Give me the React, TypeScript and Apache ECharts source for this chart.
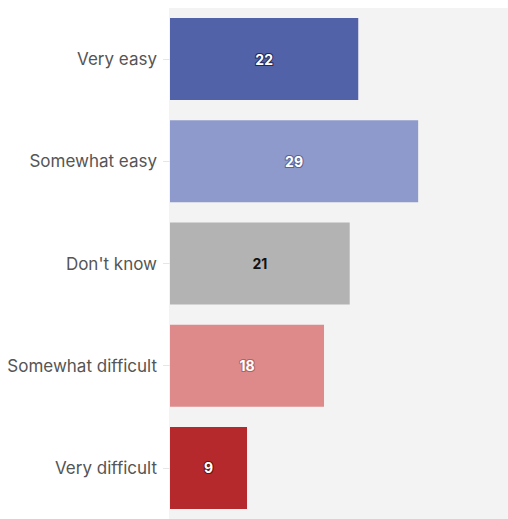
import React, { useEffect, useRef } from "react";
import * as echarts from "echarts";

const categories = ["Very easy", "Somewhat easy", "Don't know", "Somewhat difficult", "Very difficult"];
const values = [22, 29, 21, 18, 9];
const colors = ["#5262a8", "#8e9acb", "#b3b3b3", "#de8a8b", "#b5292d"];
const labelColors = ["#ffffff", "#ffffff", "#111111", "#ffffff", "#ffffff"];
const labelBorders = ["#1f2a5e", "#5a6396", "#d0d0d0", "#b06264", "#6a1010"];

export default function App() {
  const ref = useRef<HTMLDivElement>(null);
  useEffect(() => {
    if (!ref.current) return;
    const chart = echarts.init(ref.current, null, { renderer: "svg" });
    chart.setOption({
      animation: false,
      graphic: [
        {
          type: "rect",
          z: -10,
          silent: true,
          shape: { x: 169, y: 8, width: 339, height: 511 },
          style: { fill: "#f3f3f3" },
        },
      ],
      grid: {
        show: false,
        left: 170,
        right: 0,
        top: 8,
        bottom: -4,
        containLabel: false,
      },
      xAxis: {
        type: "value",
        min: 0,
        max: 39.5,
        show: false,
      },
      yAxis: {
        type: "category",
        data: categories,
        inverse: true,
        axisLine: { show: false },
        axisTick: { show: true, length: 7, lineStyle: { color: "#e6e6e6" }, alignWithLabel: true },
        axisLabel: {
          color: "#555555",
          fontSize: 17,
          fontFamily: "Inter",
          margin: 13,
        },
        splitLine: { show: false },
      },
      series: [
        {
          type: "bar",
          barWidth: 82,
          data: values.map((v, i) => ({
            value: v,
            itemStyle: { color: colors[i] },
            label: {
              color: labelColors[i],
              textBorderColor: labelBorders[i],
              textBorderWidth: i === 2 ? 0 : 2,
            },
          })),
          label: {
            show: true,
            position: "inside",
            fontSize: 14,
            fontWeight: "bold",
            fontFamily: "Inter",
          },
        },
      ],
    });
    return () => chart.dispose();
  }, []);
  return (
    <div
      ref={ref}
      style={{ position: "fixed", left: 0, top: 0, width: 508, height: 519, background: "#ffffff" }}
    />
  );
}
